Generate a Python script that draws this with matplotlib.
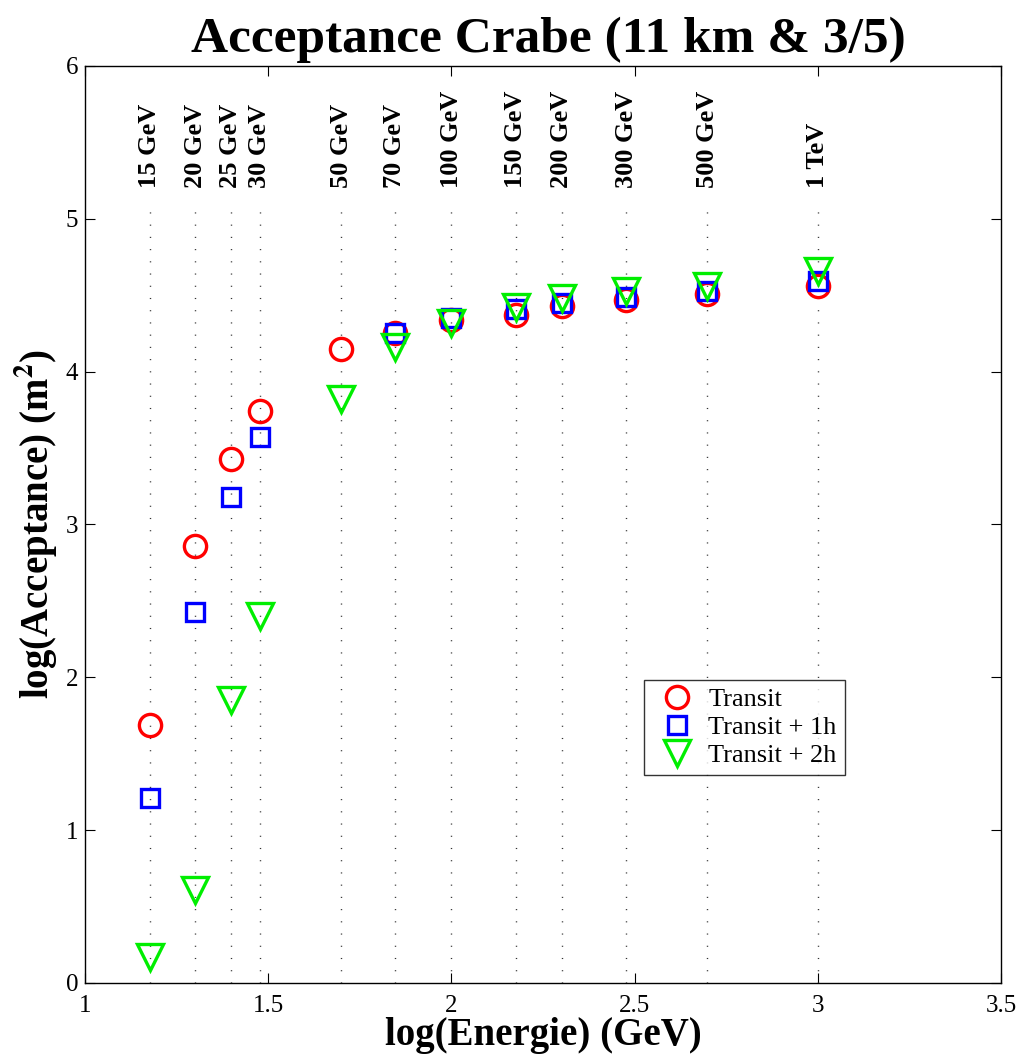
import numpy as np
import matplotlib
matplotlib.use("Agg")
import matplotlib.pyplot as plt

plt.rcParams['font.family'] = ['Liberation Serif', 'DejaVu Serif']
plt.rcParams['mathtext.fontset'] = 'stix'

# energies (GeV) and their labels
energies = [15, 20, 25, 30, 50, 70, 100, 150, 200, 300, 500, 1000]
e_labels = ['15 GeV', '20 GeV', '25 GeV', '30 GeV', '50 GeV', '70 GeV',
            '100 GeV', '150 GeV', '200 GeV', '300 GeV', '500 GeV', '1 TeV']

# log10(acceptance) values
transit = [1.69, 2.86, 3.43, 3.74, 4.15, 4.25, 4.34, 4.37, 4.43, 4.47, 4.51, 4.56]
transit_1h = [1.21, 2.43, 3.18, 3.57, np.nan, 4.25, 4.35, 4.41, 4.45, 4.49, 4.53, 4.59]
transit_2h = [0.17, 0.61, 1.85, 2.40, 3.82, 4.16, 4.32, 4.42, 4.48, 4.53, 4.56, 4.66]

loge = np.log10(energies)

fig = plt.figure(figsize=(10.21, 10.63), dpi=100)
ax = fig.add_axes([0.0833, 0.0753, 0.897, 0.8627])

for x, lab in zip(loge, e_labels):
    ax.plot([x, x], [0, 5.1], color='#333333', linestyle=(0, (0.8, 8)), linewidth=1.0)
    ax.text(x, 5.2, lab, rotation=90, ha='center', va='bottom',
            fontsize=19, fontweight='bold')

ax.plot(loge, transit, 'o', markersize=16, markerfacecolor='none',
        markeredgecolor='red', markeredgewidth=2.4, linestyle='none', label='Transit')
ax.plot(loge, transit_1h, 's', markersize=13.5, markerfacecolor='none',
        markeredgecolor='blue', markeredgewidth=2.4, linestyle='none', label='Transit + 1h')
ax.plot(loge, transit_2h, 'v', markersize=19, markerfacecolor='none',
        markeredgecolor='#00ee00', markeredgewidth=2.4, linestyle='none', label='Transit + 2h')

ax.set_xlim(1, 3.5)
ax.set_ylim(0, 6)
ax.set_xticks([1, 1.5, 2, 2.5, 3, 3.5])
ax.set_xticklabels(['1', '1.5', '2', '2.5', '3', '3.5'])
ax.set_yticks([0, 1, 2, 3, 4, 5, 6])
ax.tick_params(direction='in', top=True, right=True, labelsize=18, length=7)
ax.tick_params(axis='x', pad=9)
ax.tick_params(axis='y', pad=5)
for s in ax.spines.values():
    s.set_linewidth(1.0)

ax.set_xlabel('log(Energie) (GeV)', fontsize=28, fontweight='bold', labelpad=0)
ax.set_ylabel(r'log(Acceptance) (m$\mathbf{^2}$)', fontsize=28, fontweight='bold', labelpad=4)
ax.set_title('Acceptance Crabe (11 km & 3/5)', fontsize=37, fontweight='bold', pad=10, x=0.506)

leg = ax.legend(loc='upper left', bbox_to_anchor=(0.610, 0.3304), borderaxespad=0,
                fontsize=19, frameon=True, fancybox=False, edgecolor='black',
                borderpad=0.3, handletextpad=0.25, labelspacing=0.16,
                handlelength=1.9)
leg.get_frame().set_linewidth(1.0)

fig.savefig('out.png', dpi=100)
